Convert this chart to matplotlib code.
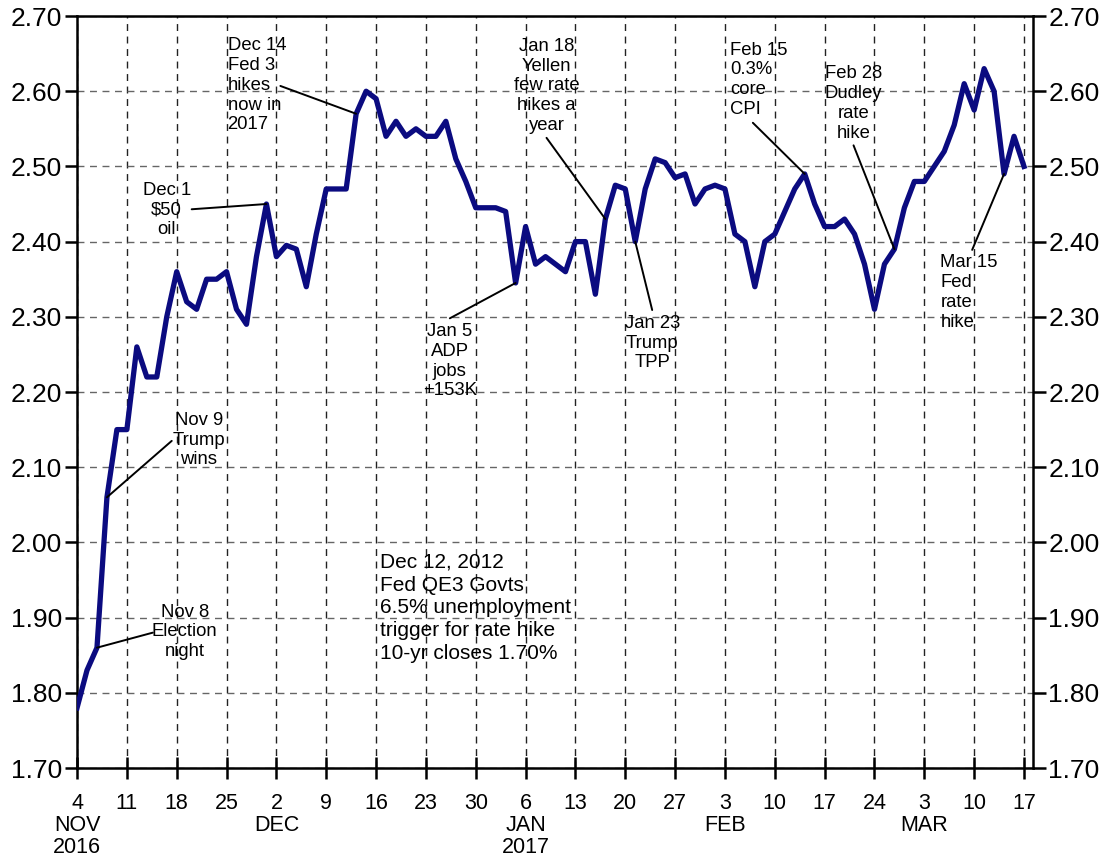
import matplotlib.pyplot as plt

plt.rcParams['font.family'] = ['Liberation Sans', 'DejaVu Sans']

# 10-yr yield, daily closes (weekdays), Nov 4 2016 .. Mar 17 2017
yields = [1.78, 1.83, 1.86, 2.06, 2.15, 2.15, 2.26, 2.22, 2.22, 2.30,
          2.36, 2.32, 2.31, 2.35, 2.35, 2.36, 2.31, 2.29, 2.38, 2.45,
          2.38, 2.395, 2.39, 2.34, 2.41, 2.47, 2.47, 2.47, 2.57, 2.60,
          2.59, 2.54, 2.56, 2.54, 2.55, 2.54, 2.54, 2.56, 2.51, 2.48,
          2.445, 2.445, 2.445, 2.44, 2.345, 2.42, 2.37, 2.38, 2.37, 2.36,
          2.40, 2.40, 2.33, 2.43, 2.475, 2.47, 2.40, 2.47, 2.51, 2.505,
          2.485, 2.49, 2.45, 2.47, 2.475, 2.47, 2.41, 2.40, 2.34, 2.40,
          2.41, 2.44, 2.47, 2.49, 2.45, 2.42, 2.42, 2.43, 2.41, 2.37,
          2.31, 2.37, 2.39, 2.445, 2.48, 2.48, 2.50, 2.52, 2.555, 2.61,
          2.575, 2.63, 2.60, 2.49, 2.54, 2.50]

# weekly ticks (Fridays)
tick_labels = ["4\nNOV\n2016", "11", "18", "25", "2\nDEC", "9", "16", "23", "30",
               "6\nJAN\n2017", "13", "20", "27", "3\nFEB", "10", "17", "24",
               "3\nMAR", "10", "17"]
y_ticks = [1.70, 1.80, 1.90, 2.00, 2.10, 2.20, 2.30, 2.40, 2.50, 2.60, 2.70]

# events: day index, text, text pos (x, y), alignment, line start (x, y)
ev_idx = [2, 3, 19, 28, 44, 53, 56, 73, 82, 93]
ev_text = ["Nov 8\nElection\nnight", "Nov 9\nTrump\nwins", "Dec 1\n$50\noil",
           "Dec 14\nFed 3\nhikes\nnow in\n2017", "Jan 5\nADP\njobs\n+153K",
           "Jan 18\nYellen\nfew rate\nhikes a\nyear", "Jan 23\nTrump\nTPP",
           "Feb 15\n0.3%\ncore\nCPI", "Feb 28\nDudley\nrate\nhike",
           "Mar 15\nFed\nrate\nhike"]
ev_pos = [(10.8, 1.881), (12.2, 2.136), (9.0, 2.442), (15.1, 2.608), (37.4, 2.241),
          (47.1, 2.607), (57.7, 2.265), (65.5, 2.615), (77.9, 2.584), (86.6, 2.332)]
ev_ha = ["center", "center", "center", "left", "center",
         "center", "center", "left", "center", "left"]
ev_start = [(7.6, 1.880), (9.5, 2.135), (11.5, 2.443), (20.4, 2.607), (37.4, 2.298),
            (47.1, 2.538), (57.7, 2.309), (67.8, 2.558), (77.9, 2.528), (89.8, 2.389)]

note = "Dec 12, 2012\nFed QE3 Govts\n6.5% unemployment\ntrigger for rate hike\n10-yr closes 1.70%"

fig = plt.figure(figsize=(11.1, 8.56), dpi=100)
ax = fig.add_axes([0.0694, 0.1028, 0.8612, 0.8785])

x = list(range(len(yields)))
ax.plot(x, yields, color='#0b0b80', lw=3.8, zorder=3)

ax.set_xlim(0, 95.9)
ax.set_ylim(1.70, 2.70)
ax.set_xticks(list(range(0, len(yields), 5)))
ax.set_xticklabels(tick_labels, fontsize=15.5, linespacing=1.07)
ax.set_yticks(y_ticks)
ax.set_yticklabels(["%.2f" % v for v in y_ticks], fontsize=19)

ax.tick_params(axis='x', direction='inout', length=16, width=1.8, pad=10)
ax.tick_params(axis='y', direction='out', length=9, width=1.8, pad=2,
               left=True, right=True, labelleft=True, labelright=True)
for s in ax.spines.values():
    s.set_linewidth(1.8)

ax.xaxis.grid(True, ls=(0, (5, 4)), color='#222222', lw=1.0)
ax.yaxis.grid(True, ls=(0, (5, 4)), color='#666666', lw=1.0)
ax.set_axisbelow(True)

for i, t, p, ha, st in zip(ev_idx, ev_text, ev_pos, ev_ha, ev_start):
    ax.text(p[0], p[1], t, ha=ha, va='center', fontsize=13.3, linespacing=1.22, zorder=4)
    ax.annotate('', xy=(i, yields[i]), xytext=st,
                arrowprops=dict(arrowstyle='-', color='black', lw=1.4,
                                shrinkA=0, shrinkB=0), zorder=4)

ax.text(30.4, 1.913, note, ha='left', va='center', fontsize=15, linespacing=1.25)

fig.savefig('out.png', dpi=100)
